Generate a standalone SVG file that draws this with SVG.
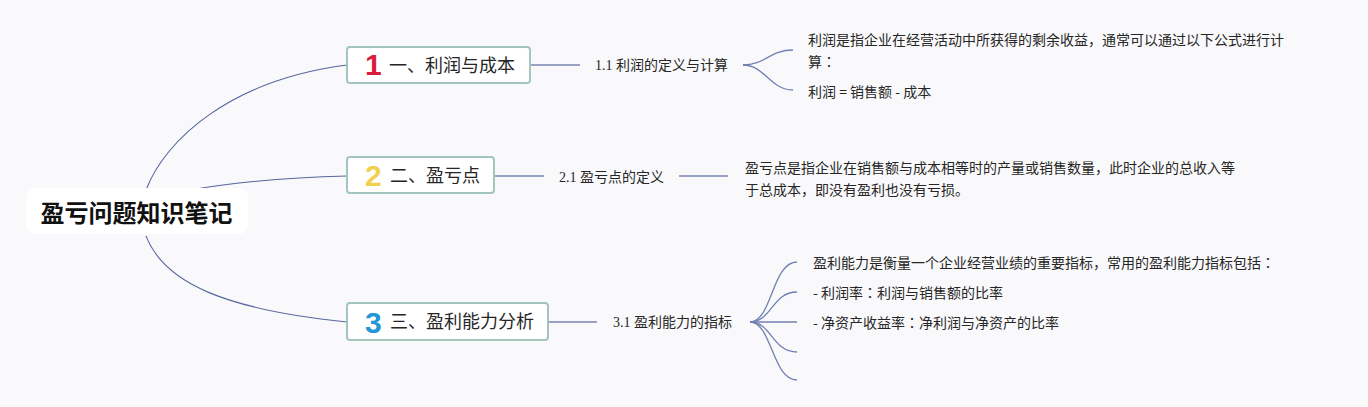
<svg xmlns="http://www.w3.org/2000/svg" width="1368" height="407" viewBox="0 0 1368 407">
<style>
.bg{fill:#f9f9fb}
.main{fill:none;stroke:#55659e;stroke-width:1.1}
.branch{fill:none;stroke:#98a3c4;stroke-width:2}
.fork{fill:none;stroke:#7180b2;stroke-width:1.3}
.box{fill:#ffffff;stroke:#a4c5bb;stroke-width:2}
.root{fill:#ffffff}
.t{font-family:"Noto Sans CJK SC","Noto Sans",sans-serif;fill:#262626}
.rt{font-size:24px;font-weight:bold;fill:#111}
.nt{font-size:18px}
.num{font-family:"Liberation Sans","DejaVu Sans",sans-serif;font-size:30px;font-weight:bold}
.ct{font-family:"Liberation Serif","Noto Sans CJK SC",serif;font-size:14px;fill:#262626}
.ct tspan.c{font-family:"Noto Sans CJK SC",sans-serif}
.dt{font-size:14px}
.col{font-family:"Noto Sans CJK TC",sans-serif}
</style>
<rect class="bg" x="0" y="0" width="1368" height="407"/>
<g id="connectors">
<path class="main" d="M146,190 C165,140 230,80 347,65"/>
<path class="main" d="M190,190 Q260,178 347,176"/>
<path class="main" d="M146,236 C165,285 230,310 347,322"/>
<path class="branch" d="M530,65 H580"/>
<path class="branch" d="M494,176 H544"/>
<path class="branch" d="M679,176 H728"/>
<path class="branch" d="M548,322 H597"/>
<path class="fork" d="M743,65 C765,65 770,50 793,50"/>
<path class="fork" d="M743,65 C765,65 770,90 793,90"/>
<path class="fork" d="M750,322 C772,322 772,262 797,262"/>
<path class="fork" d="M750,322 C772,322 772,292 797,292"/>
<path class="fork" d="M750,322 H797"/>
<path class="fork" d="M750,322 C772,322 772,352 797,352"/>
<path class="fork" d="M750,322 C772,322 772,380 797,380"/>
</g>
<g id="root">
<rect class="root" x="26" y="188" width="222" height="46" rx="9"/>
<text class="t rt" x="136.5" y="222" text-anchor="middle">盈亏问题知识笔记</text>
</g>
<g id="node1">
<rect class="box" x="347" y="47" width="183" height="36" rx="3"/>
<text class="num" x="365" y="75" fill="#d81e3c">1</text>
<text class="t nt" x="389" y="72">一、利润与成本</text>
</g>
<g id="node2">
<rect class="box" x="347" y="157" width="147" height="36" rx="3"/>
<text class="num" x="365" y="186" fill="#f2d14e">2</text>
<text class="t nt" x="390" y="182">二、盈亏点</text>
</g>
<g id="node3">
<rect class="box" x="347" y="303" width="201" height="37" rx="3"/>
<text class="num" x="365" y="333" fill="#2196d8">3</text>
<text class="t nt" x="390" y="328">三、盈利能力分析</text>
</g>
<g id="child1">
<text class="ct" x="595" y="70">1.1 <tspan class="c">利润的定义与计算</tspan></text>
</g>
<g id="child2">
<text class="ct" x="559" y="182">2.1 <tspan class="c">盈亏点的定义</tspan></text>
</g>
<g id="child3">
<text class="ct" x="613" y="327">3.1 <tspan class="c">盈利能力的指标</tspan></text>
</g>
<g id="desc1">
<text class="t dt" x="808" y="45">利润是指企业在经营活动中所获得的剩余收益，通常可以通过以下公式进行计</text>
<text class="t dt" x="808" y="67">算<tspan class="col">：</tspan></text>
<text class="t dt" x="808" y="97">利润 = 销售额 - 成本</text>
</g>
<g id="desc2">
<text class="t dt" x="745" y="173">盈亏点是指企业在销售额与成本相等时的产量或销售数量，此时企业的总收入等</text>
<text class="t dt" x="745" y="195">于总成本，即没有盈利也没有亏损。</text>
</g>
<g id="desc3">
<text class="t dt" x="813" y="268">盈利能力是衡量一个企业经营业绩的重要指标，常用的盈利能力指标包括<tspan class="col">：</tspan></text>
<text class="t dt" x="813" y="298">- 利润率<tspan class="col">：</tspan>利润与销售额的比率</text>
<text class="t dt" x="813" y="328">- 净资产收益率<tspan class="col">：</tspan>净利润与净资产的比率</text>
</g>
</svg>
